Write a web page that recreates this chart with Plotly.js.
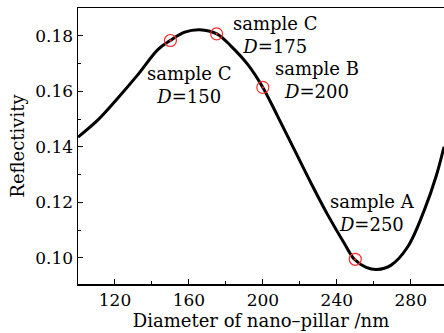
<!DOCTYPE html>
<html>
<head>
<meta charset="utf-8">
<script src="https://cdn.plot.ly/plotly-3.0.1.min.js"></script>
<style>html,body{margin:0;padding:0;background:#fff;}#chart{width:444px;height:333px;}</style>
</head>
<body>
<div id="chart"></div>
<script>
// Curve: reflectivity vs nano-pillar diameter (nm)
const diameter = [100, 110.8, 121.6, 132.4, 143.2, 149.9, 157.7, 165.8, 175.1, 182.9, 191.9, 200, 208.1, 217.1, 226.1, 235.1, 244.1, 249.5, 255.9, 261.6, 269.4, 278.4, 287.4, 293.7, 298];
const reflectivity = [0.1435, 0.1497, 0.1576, 0.1660, 0.1750, 0.1783, 0.1813, 0.1822, 0.1807, 0.1762, 0.1696, 0.1614, 0.1509, 0.1389, 0.1269, 0.1155, 0.1052, 0.0995, 0.0966, 0.0958, 0.0974, 0.1040, 0.1173, 0.1293, 0.1400];

// Samples
const sampleD = [150, 175, 200, 250];
const sampleR = [0.1783, 0.1807, 0.1614, 0.0995];
const sampleNames = ["sample C", "sample C", "sample B", "sample A"];
const labelX = [160.3, 206.5, 229.2, 259.2];
const labelY = [0.1624, 0.1804, 0.1642, 0.1161];

const xTicks = [120, 160, 200, 240, 280];
const yTicks = [0.10, 0.12, 0.14, 0.16, 0.18];

const fontFam = "DejaVu Serif, serif";

const traces = [
  {x: diameter, y: reflectivity, mode: 'lines', line: {color: '#000', width: 3, shape: 'spline', smoothing: 1}, hoverinfo: 'skip'},
  {x: sampleD, y: sampleR, mode: 'markers', marker: {symbol: 'circle-open-dot', size: 12, color: '#ff2a2a', line: {width: 1.2, color: '#ff2a2a'}}}
];

const annotations = sampleNames.map((n, i) => ({
  x: labelX[i], y: labelY[i], xref: 'x', yref: 'y',
  text: n + '<br><i>D</i>=' + sampleD[i],
  showarrow: false, align: 'center',
  font: {family: fontFam, size: 18, color: '#000'}
}));

const layout = {
  width: 444, height: 333,
  margin: {l: 78, r: 0, t: 8, b: 49},
  paper_bgcolor: '#fff', plot_bgcolor: '#fff',
  showlegend: false,
  font: {family: fontFam, size: 17, color: '#000'},
  xaxis: {
    range: [100, 298], tickvals: xTicks, ticktext: xTicks.map(String),
    ticks: 'inside', ticklen: 5, tickwidth: 1, tickcolor: '#000',
    minor: {dtick: 20, tick0: 100, ticks: 'inside', ticklen: 3, tickcolor: '#000'},
    showline: true, linecolor: '#000', linewidth: 1.5, mirror: true,
    showgrid: false, zeroline: false,
    title: {text: 'Diameter of nano–pillar /nm', font: {family: fontFam, size: 18, color: '#000'}, standoff: 2},
    tickfont: {family: fontFam, size: 17, color: '#000'}
  },
  yaxis: {
    range: [0.0906, 0.190], tickvals: yTicks, ticktext: yTicks.map(v => v.toFixed(2)),
    ticks: 'inside', ticklen: 5, tickwidth: 1, tickcolor: '#000',
    minor: {dtick: 0.01, tick0: 0.09, ticks: 'inside', ticklen: 3, tickcolor: '#000'},
    showline: true, linecolor: '#000', linewidth: 1.5, mirror: false,
    showgrid: false, zeroline: false,
    title: {text: 'Reflectivity', font: {family: fontFam, size: 18, color: '#000'}, standoff: 6},
    tickfont: {family: fontFam, size: 17, color: '#000'}
  },
  annotations: annotations
};

Plotly.newPlot('chart', traces, layout, {displayModeBar: false, staticPlot: true});
</script>
</body>
</html>
